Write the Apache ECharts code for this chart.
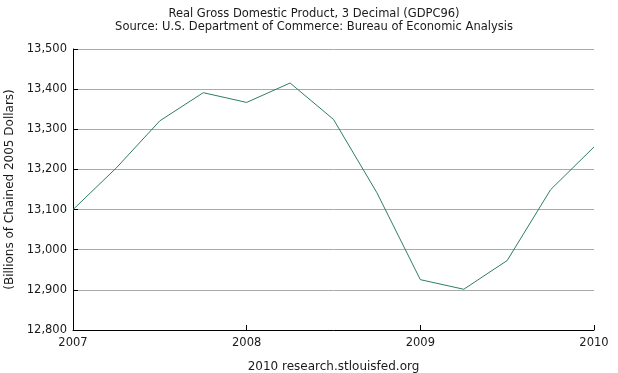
<!DOCTYPE html>
<html>
<head>
<meta charset="utf-8">
<script src="https://cdn.jsdelivr.net/npm/echarts@6/dist/echarts.min.js"></script>
<style>html,body{margin:0;padding:0;background:#fff}#c{width:618px;height:373px}</style>
</head>
<body>
<div id="c"></div>
<script>
const quarters = ['2007-Q1','2007-Q2','2007-Q3','2007-Q4','2008-Q1','2008-Q2','2008-Q3','2008-Q4','2009-Q1','2009-Q2','2009-Q3','2009-Q4','2010-Q1'];
const gdp = [13099.9, 13204.0, 13321.1, 13391.2, 13366.9, 13415.3, 13324.6, 13141.9, 12925.4, 12901.5, 12973.0, 13149.5, 13256.0];
const yearTicks = [2007, 2008, 2009, 2010];
const titleLines = ['Real Gross Domestic Product, 3 Decimal (GDPC96)', 'Source: U.S. Department of Commerce: Bureau of Economic Analysis'];

const toYear = q => { const [y, qq] = q.split('-Q'); return +y + (+qq - 1) / 4; };
const seriesData = quarters.map((q, i) => [toYear(q), gdp[i]]);
const font = 'DejaVu Sans, Verdana, sans-serif';
const txt = '#1a1a1a';

const chart = echarts.init(document.getElementById('c'));
chart.setOption({
  animation: false,
  textStyle: { fontFamily: font },
  title: {
    text: titleLines.join('\n'),
    left: 309, top: 3, textAlign: 'center',
    textStyle: { fontSize: 11.5, fontWeight: 'normal', color: txt, lineHeight: 13, fontFamily: font }
  },
  grid: { left: 73, right: 24, top: 49, bottom: 43, outerBoundsMode: 'none', containLabel: false },
  xAxis: {
    type: 'value', min: yearTicks[0], max: yearTicks[yearTicks.length - 1], interval: 1,
    name: '2010 research.stlouisfed.org', nameLocation: 'middle', nameGap: 31,
    nameTextStyle: { fontSize: 12, color: txt, fontFamily: font },
    axisLine: { show: true, lineStyle: { color: '#000', width: 1 } },
    axisTick: { show: true, inside: true, length: 5, lineStyle: { color: '#000' } },
    axisLabel: { fontSize: 11.5, color: txt, margin: 7, formatter: v => String(v) },
    splitLine: { show: false }
  },
  yAxis: {
    type: 'value', min: 12800, max: 13500, interval: 100,
    name: '(Billions of Chained 2005 Dollars)', nameLocation: 'middle', nameGap: 53,
    nameTextStyle: { fontSize: 12, color: txt, fontFamily: font },
    axisLine: { show: true, lineStyle: { color: '#000', width: 1 } },
    axisTick: { show: true, inside: true, length: 5, lineStyle: { color: '#000' } },
    axisLabel: { fontSize: 11.5, color: txt, margin: 6, formatter: v => v.toLocaleString('en-US') },
    splitLine: { show: true, lineStyle: { color: '#aaa', width: 1 } }
  },
  series: [{
    type: 'line', data: seriesData, showSymbol: false,
    lineStyle: { color: '#2e7d64', width: 1 }
  }]
});
</script>
</body>
</html>
